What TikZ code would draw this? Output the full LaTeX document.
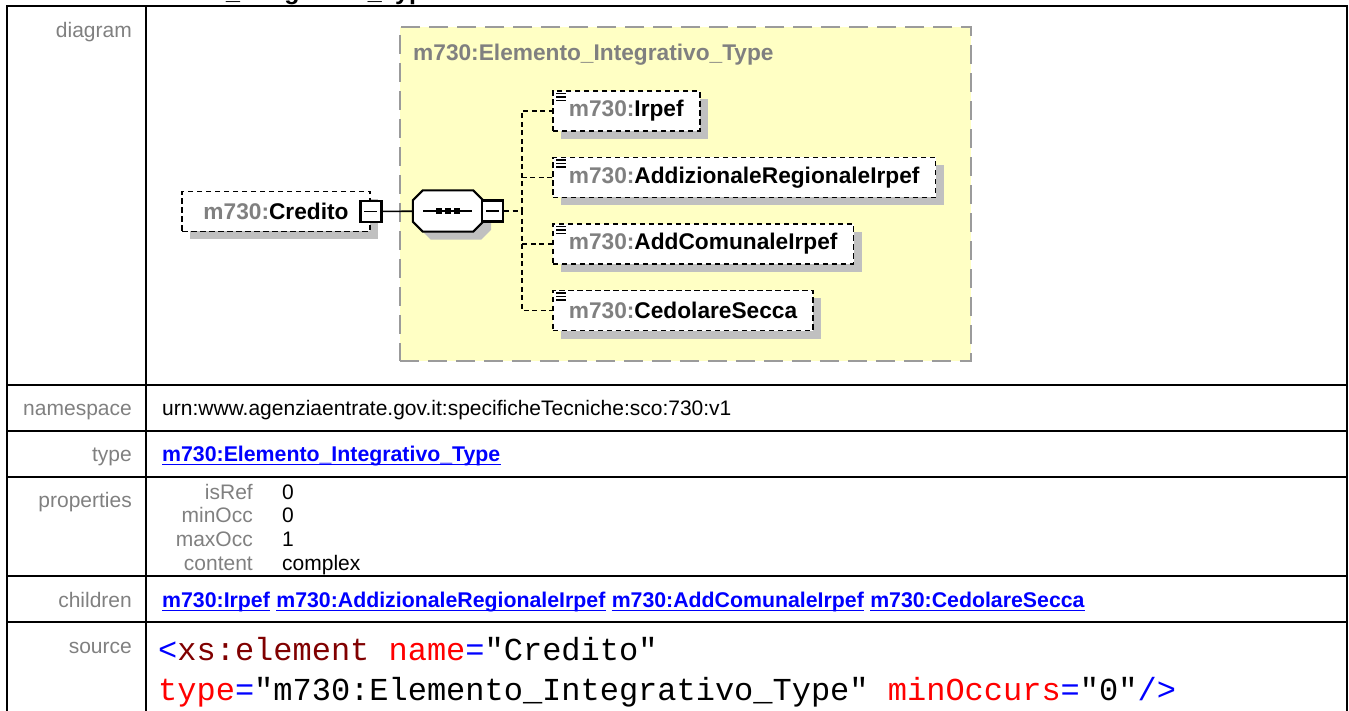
\documentclass[tikz,border=0pt]{standalone}
\usepackage{fontspec}
\setmainfont{Liberation Sans}
\setmonofont{Liberation Mono}
\usetikzlibrary{positioning, calc, shadows}
\definecolor{typefill}{RGB}{255,255,196}
\definecolor{typeline}{RGB}{155,155,155}
\definecolor{labelgray}{RGB}{128,128,128}
\definecolor{shadowgray}{RGB}{192,192,192}
\definecolor{linkblue}{RGB}{0,0,255}
\definecolor{tagred}{RGB}{128,0,0}
\definecolor{attrred}{RGB}{255,0,0}
\newcommand{\pfx}[1]{\textcolor{labelgray}{m730:}#1}
\newcommand{\diagfont}{\fontsize{22.7}{26}\selectfont\bfseries}
% octagon round node #1, moved by #2 down and right
\newcommand{\octpath}[2]{($(#1.north west)+(10+#2,#2)$) -- ($(#1.north east)+(-10+#2,#2)$) -- ($(#1.north east)+(#2,10+#2)$)
  -- ($(#1.south east)+(#2,-10+#2)$) -- ($(#1.south east)+(-10+#2,#2)$) -- ($(#1.south west)+(10+#2,#2)$)
  -- ($(#1.south west)+(#2,-10+#2)$) -- ($(#1.north west)+(#2,10+#2)$) -- cycle}

\begin{document}
\begin{tikzpicture}[x=1pt, y=-1pt,
    every node/.style={inner sep=0pt},
    tbl/.style={line width=2.2pt},
    rowlabel/.style={anchor=base east, text=labelgray, font=\fontsize{21}{24}\selectfont},
    cell/.style={anchor=base west, font=\fontsize{21}{24}\selectfont},
    link/.style={anchor=base west, text=linkblue, font=\fontsize{21.3}{24}\selectfont\bfseries},
    src/.style={anchor=base west, font=\ttfamily\fontsize{32}{38}\selectfont},
    elem/.style={draw, line width=1.7pt, dash pattern=on 5.5pt off 3.5pt, fill=white, minimum height=40pt, inner xsep=16pt, font=\diagfont,
      drop shadow={shadow xshift=8pt, shadow yshift=-8pt, fill=shadowgray, opacity=1}},
    minusbox/.style={draw, line width=2.5pt, fill=white, minimum size=21pt,
      path picture={\draw[line width=1.6pt] ([xshift=-6.5pt]path picture bounding box.center) -- ([xshift=6.5pt]path picture bounding box.center);}},
    tree/.style={line width=1.4pt, dash pattern=on 5pt off 3.5pt}]
    \useasboundingbox (0,0) rectangle (1349,711);
    \clip (0,0) rectangle (1349,711);

    % page title, cut at the top edge
    \node[anchor=base west, font=\fontsize{25}{30}\selectfont\bfseries] (pageTitle) at (12,-0.5) {element Elemento\_Integrativo\_Type/Credito};

    % table grid
    \draw[tbl] (7,711) -- (7,6) -- (1347,6) -- (1347,711);
    \draw[tbl] (146,6) -- (146,711);
    \foreach \y in {385,431,477,576,622}
      \draw[tbl] (7,\y) -- (1347,\y);

    % row labels
    \node[rowlabel] (lDiagram) at (132,38) {diagram};
    \node[rowlabel] (lNamespace) at (132,415.5) {namespace};
    \node[rowlabel] (lType) at (132,461) {type};
    \node[rowlabel] (lProps) at (132,507) {properties};
    \node[rowlabel] (lChildren) at (132,607) {children};
    \node[rowlabel] (lSource) at (132,653) {source};

    % namespace and type
    \node[cell] (ns) at (162,415.5) {urn:www.agenziaentrate.gov.it:specificheTecniche:sco:730:v1};
    \node[link] (tyLink) at (162,461) {m730:Elemento\_Integrativo\_Type};

    % properties
    \foreach \k/\v [count=\i] in {isRef/0, minOcc/0, maxOcc/1, content/complex} {
      \node[rowlabel] (pk\i) at (253,475.5+23.7*\i) {\k};
      \node[cell] (pv\i) at (282,475.5+23.7*\i) {\v};
    }

    % children
    \node[link] (ch1) at (162,607) {m730:Irpef};
    \node[link, base right=6pt of ch1] (ch2) {m730:AddizionaleRegionaleIrpef};
    \node[link, base right=6pt of ch2] (ch3) {m730:AddComunaleIrpef};
    \node[link, base right=6pt of ch3] (ch4) {m730:CedolareSecca};
    \foreach \n in {tyLink,ch1,ch2,ch3,ch4}
      \draw[linkblue, line width=1.8pt] ([yshift=-3.5pt]\n.base west) -- ([yshift=-3.5pt]\n.base east);

    % source
    \node[src] (src1) at (158,660) {\textcolor{linkblue}{<}\textcolor{tagred}{xs:element} \textcolor{attrred}{name}\textcolor{linkblue}{=}"Credito"};
    \node[src] (src2) at (158,700) {\textcolor{attrred}{type}\textcolor{linkblue}{=}"m730:Elemento\_Integrativo\_Type" \textcolor{attrred}{minOccurs}\textcolor{linkblue}{=}"0"\textcolor{linkblue}{/>}};

    % complex type
    \node[draw=typeline, line width=2pt, dash pattern=on 19pt off 9pt, fill=typefill, minimum width=571pt, minimum height=334pt] (ctype) at (685.5,194) {};
    \node[anchor=base west, text=labelgray, font=\diagfont] (ctypeTitle) at (413,61) {m730:Elemento\_Integrativo\_Type};

    % element Credito
    \node[elem, minimum width=188pt, inner xsep=0pt] (credito) at (276,211.5) {\pfx{Credito}\hspace{11pt}};
    \node[minusbox] (creditoMinus) at (credito.east) {};

    % sequence
    \node[minimum width=70pt, minimum height=41pt] (seq) at (448,211) {};
    \fill[shadowgray] \octpath{seq}{8};
    \filldraw[fill=white, draw=black, line width=2pt] \octpath{seq}{0};
    \draw[line width=1.6pt] ([xshift=-25pt]seq.center) -- ([xshift=24pt]seq.center);
    \foreach \dx in {-9,0,9}
      \fill ([xshift=\dx pt]seq.center) ++(-3,-3) rectangle ++(6,6);
    \node[minusbox] (seqMinus) at ([xshift=9.5pt]seq.east) {};
    \draw[line width=1.6pt] (creditoMinus) -- (seq);

    % children of the sequence
    \node[elem, anchor=west] (irpef) at (552,111) {\pfx{Irpef}};
    \node[elem, anchor=west] (addReg) at (552,177.5) {\pfx{AddizionaleRegionaleIrpef}};
    \node[elem, anchor=west] (addCom) at (552,244) {\pfx{AddComunaleIrpef}};
    \node[elem, anchor=west] (cedolare) at (552,310.5) {\pfx{CedolareSecca}};
    \coordinate (trunk) at (522,211);
    \foreach \b in {irpef,addReg,addCom,cedolare} {
      \draw[tree] (seqMinus.east) -- (seqMinus.east -| trunk) |- (\b.west);
      \foreach \dy in {3.5,7,10.5}
        \draw[line width=1.4pt] ($(\b.north west)+(4,\dy)$) -- ++(10,0);
    }
  \end{tikzpicture}
\end{document}
